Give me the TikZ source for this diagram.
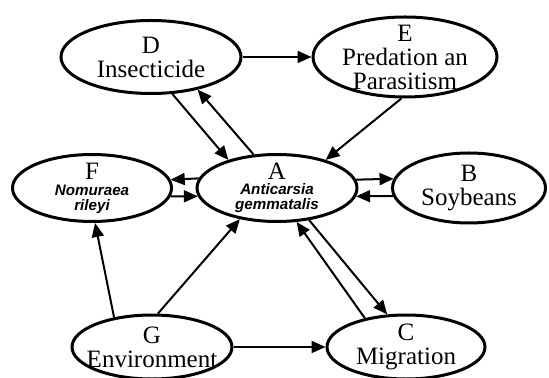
\documentclass[tikz,border=0pt]{standalone}
\usepackage{fontspec}
\setmainfont{Liberation Serif}
\setsansfont{Liberation Sans}
\usepackage{tikz}
\usetikzlibrary{
  arrows.meta,
  shapes.geometric
}
\tikzstyle{factor}=[draw, ellipse, line width=1.5pt, inner xsep=-8pt, inner ysep=-8pt, align=center, font=\fontsize{12.5}{12}\selectfont]
\tikzstyle{link}=[line width=1pt, -{Triangle[length=7pt, width=6pt]}]
\newcommand{\sciname}[1]{{\fontsize{7.6}{12}\selectfont\sffamily\bfseries\itshape #1}}

\begin{document}
\begin{tikzpicture}[x=0.5pt, y=-0.5pt]
    \useasboundingbox (0,0) rectangle (549,378);

    % 上段の要因
    \node[factor, minimum width=90pt, minimum height=36.5pt] (D) at (151,57) {D\\Insecticide};
    \node[factor, minimum width=92pt, minimum height=40pt] (E) at (405,57) {E\\Predation an\\Parasitism};

    % 中段の要因
    \node[factor, minimum width=80pt, minimum height=33.5pt] (A) at (277,188) {A\\[-4.5pt]\sciname{Anticarsia}\\[-4.5pt]\sciname{gemmatalis}};
    \node[factor, minimum width=79.5pt, minimum height=33.5pt] (F) at (92,188) {F\\[-4pt]\sciname{Nomuraea}\\[-4.5pt]\sciname{rileyi}};
    \node[factor, minimum width=76.5pt, minimum height=35pt] (B) at (469,188) {B\\Soybeans};

    % 下段の要因
    \node[factor, minimum width=80pt, minimum height=32pt] (G) at (152,347) {G\\Environment};
    \node[factor, minimum width=79pt, minimum height=32pt] (C) at (406,347) {C\\Migration};

    % 上段からの影響
    \draw[link] (D.east) -- (E.west);
    \draw[link] (D.-60) -- (A.150);
    \draw[link] (A.125) -- (D.-35);
    \draw[link] (E.-95) -- (A.30);

    % 中段の相互作用
    \draw[link] (A.173.3) -- (F.6.7);
    \draw[link] (F.-6.7) -- (A.186.7);
    \draw[link] (A.6.7) -- (B.173.5);
    \draw[link] (B.186.5) -- (A.-6.7);
    \draw[link] (A.-45) -- (C.120);
    \draw[link] (C.145) -- (A.-60);

    % 環境の影響
    \draw[link] (G.142) -- (F.-85);
    \draw[link] (G.80) -- (A.-140);
    \draw[link] (G.east) -- (C.west);
\end{tikzpicture}
\end{document}
